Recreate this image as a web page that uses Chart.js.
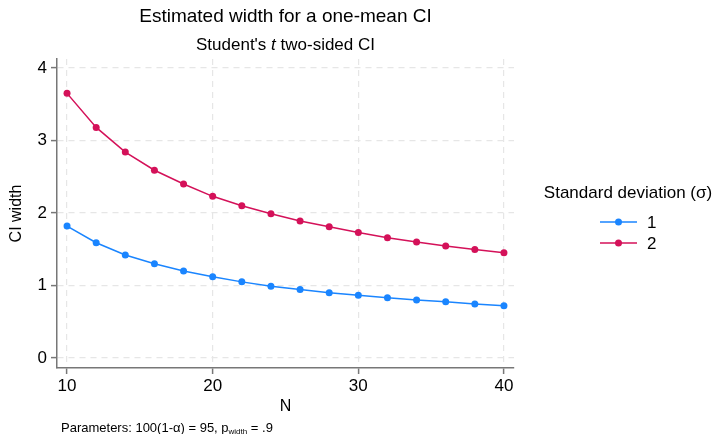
<!DOCTYPE html>
<html>
<head>
<meta charset="utf-8">
<script src="https://cdn.jsdelivr.net/npm/chart.js@4.4.1/dist/chart.umd.min.js"></script>
<style>
  html, body { margin: 0; padding: 0; background: #fff; }
  #wrap { width: 717px; height: 434px; }
</style>
</head>
<body>
<div id="wrap"><canvas id="ciChart" width="717" height="434"></canvas></div>
<script>
const sampleSizes = [10, 12, 14, 16, 18, 20, 22, 24, 26, 28, 30, 32, 34, 36, 38, 40];
const widthSd1 = [1.82, 1.59, 1.42, 1.30, 1.20, 1.12, 1.05, 0.99, 0.945, 0.90, 0.865, 0.83, 0.80, 0.775, 0.745, 0.72];
const widthSd2 = [3.65, 3.18, 2.84, 2.59, 2.40, 2.23, 2.10, 1.99, 1.89, 1.81, 1.73, 1.66, 1.60, 1.545, 1.495, 1.45];
const seriesLabels = ["1", "2"];
const xTicks = [10, 20, 30, 40];
const yTicks = [0, 1, 2, 3, 4];

const FONT = "'Liberation Sans', Arial, sans-serif";
const BLUE = "#1a85ff";
const RED = "#d41159";
const AXIS = "#777777";
const GRID = "#e6e6e6";

function toPoints(values) {
    return sampleSizes.map((n, i) => ({ x: n, y: values[i] }));
}

// titles, legend and the note, drawn on top of the chart
const decorations = {
    id: "decorations",
    afterDraw(chart) {
        const ctx = chart.ctx;
        const area = chart.chartArea;
        const cx = (area.left + area.right) / 2;
        ctx.save();
        ctx.fillStyle = "#000";
        ctx.textBaseline = "alphabetic";

        // main title
        ctx.font = "19px " + FONT;
        ctx.textAlign = "center";
        ctx.fillText("Estimated width for a one-mean CI", cx, 22);

        // subtitle with italic t
        const parts = [
            { t: "Student's ", f: "17px " + FONT },
            { t: "t", f: "italic 17px " + FONT },
            { t: " two-sided CI", f: "17px " + FONT }
        ];
        let total = 0;
        parts.forEach(p => { ctx.font = p.f; total += ctx.measureText(p.t).width; });
        let x = cx - total / 2;
        ctx.textAlign = "left";
        parts.forEach(p => {
            ctx.font = p.f;
            ctx.fillText(p.t, x, 50);
            x += ctx.measureText(p.t).width;
        });

        // legend
        ctx.font = "17px " + FONT;
        ctx.textAlign = "center";
        ctx.fillText("Standard deviation (\u03c3)", 628, 198);
        const colors = [BLUE, RED];
        const rows = [222, 243];
        seriesLabels.forEach((lab, i) => {
            const y = rows[i];
            ctx.strokeStyle = colors[i];
            ctx.lineWidth = 1.5;
            ctx.beginPath();
            ctx.moveTo(600, y);
            ctx.lineTo(637, y);
            ctx.stroke();
            ctx.fillStyle = colors[i];
            ctx.beginPath();
            ctx.arc(618.5, y, 3.5, 0, Math.PI * 2);
            ctx.fill();
            ctx.fillStyle = "#000";
            ctx.textAlign = "left";
            ctx.textBaseline = "middle";
            ctx.fillText(lab, 647, y + 1);
            ctx.textBaseline = "alphabetic";
        });

        // note with subscript
        let nx = 61;
        ctx.textAlign = "left";
        ctx.font = "13px " + FONT;
        const s1 = "Parameters: 100(1-\u03b1) = 95, p";
        ctx.fillText(s1, nx, 432);
        nx += ctx.measureText(s1).width;
        ctx.font = "8px " + FONT;
        ctx.fillText("width", nx, 434);
        nx += ctx.measureText("width").width;
        ctx.font = "13px " + FONT;
        ctx.fillText(" = .9", nx, 432);
        ctx.restore();
    }
};

new Chart(document.getElementById("ciChart").getContext("2d"), {
    type: "line",
    data: {
        datasets: [
            {
                label: seriesLabels[0],
                data: toPoints(widthSd1),
                borderColor: BLUE,
                backgroundColor: BLUE,
                borderWidth: 1.5,
                pointRadius: 3.5,
                pointBorderWidth: 0,
                tension: 0
            },
            {
                label: seriesLabels[1],
                data: toPoints(widthSd2),
                borderColor: RED,
                backgroundColor: RED,
                borderWidth: 1.5,
                pointRadius: 3.5,
                pointBorderWidth: 0,
                tension: 0
            }
        ]
    },
    options: {
        responsive: false,
        animation: false,
        layout: { padding: { top: 59, right: 203, bottom: 18, left: 0 } },
        plugins: {
            legend: { display: false },
            title: { display: false },
            tooltip: { enabled: false }
        },
        scales: {
            x: {
                type: "linear",
                min: 9.31,
                max: 40.69,
                afterBuildTicks: s => { s.ticks = xTicks.map(v => ({ value: v })); },
                afterFit: s => { s.height = 48; },
                grid: { color: GRID, tickColor: AXIS, tickLength: 6, tickWidth: 1.5, lineWidth: 1.2 },
                border: { display: true, color: AXIS, width: 1.5, dash: [6, 5] },
                ticks: { color: "#000", font: { family: FONT, size: 17 }, padding: 2, maxRotation: 0 },
                title: { display: true, text: "N", color: "#000", font: { family: FONT, size: 16 }, padding: { top: 0, bottom: 0 } }
            },
            y: {
                type: "linear",
                min: -0.138,
                max: 4.124,
                afterBuildTicks: s => { s.ticks = yTicks.map(v => ({ value: v })); },
                afterFit: s => { s.width = 57; },
                grid: { color: GRID, tickColor: AXIS, tickLength: 6, tickWidth: 1.5, lineWidth: 1.2 },
                border: { display: true, color: AXIS, width: 1.5, dash: [6, 5] },
                ticks: { color: "#000", font: { family: FONT, size: 17 }, padding: 4 },
                title: { display: true, text: "CI width", color: "#000", font: { family: FONT, size: 16 }, padding: { top: 7, bottom: 0 } }
            }
        }
    },
    plugins: [decorations]
});
</script>
</body>
</html>
